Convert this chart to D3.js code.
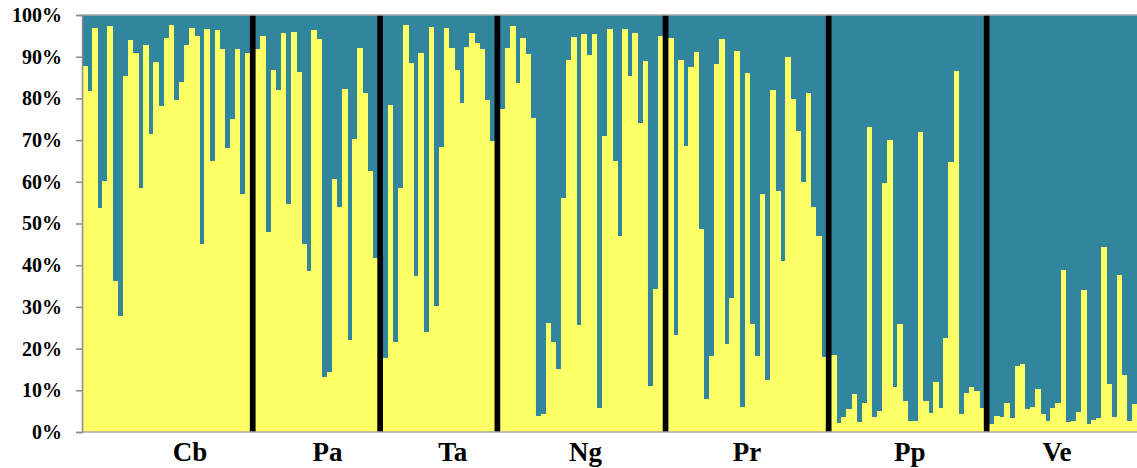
<!DOCTYPE html>
<html>
<head>
<meta charset="utf-8">
<script src="https://cdn.jsdelivr.net/npm/d3@7"></script>
<style>
  body { margin: 0; background: #fff; }
  svg text { font-family: "Liberation Serif", "Times New Roman", serif; font-weight: bold; fill: #000; }
</style>
</head>
<body>
<div id="chart"></div>
<script>
// membership (%) in cluster 1 for each individual, by population
const groups = ["Cb", "Pa", "Ta", "Ng", "Pr", "Pp", "Ve"];
const cb = [87.8,81.8,97,53.7,60.2,97.4,36.2,27.8,85.3,94,90.9,58.6,92.8,71.4,88.8,78.1,94.6,97.7,79.5,84,92.9,97,95,45,96.6,65,96.4,91.8,68,75.1,91.8,57,91];
const pa = [91.8,95,48,86.7,81.9,95.6,54.7,95.9,86.3,45,38.5,96.3,94.2,13.1,14.5,60.6,54,82.2,22.1,70.3,92.2,81.2,62.7,41.8];
const ta = [17.7,78.3,21.7,58.5,97.7,88.6,37.3,91,24,97.2,30.3,68.4,97,92.1,86.8,79,92.4,95.8,93.4,91.8,79.6,69.7];
const ng = [77.5,92,97.3,83.8,94.5,90.6,75.3,3.9,4.3,26.1,21.7,15.2,56.2,89.3,94.8,25.7,95.4,90.4,95.4,5.7,71,96.6,64.9,47.1,96.6,85.4,95.8,74.1,89,11,34.4,95];
const pr = [94.6,23.3,89.2,68.7,87.5,91.1,48.7,7.8,18.2,88.3,94.2,21.1,32.2,91.4,5.9,86.2,25.8,18.3,57.1,12.5,82.1,57.9,40.9,89.9,79.9,72.1,59.9,81.3,54,47,18.1];
const pp = [18.4,2.2,3.7,5.5,9,2.4,6.9,73.2,3.7,5,59.8,70,10.8,25.9,7.5,2.6,2.7,71.9,7.5,4.5,12.1,5.8,22.5,64.8,86.6,4.3,9.3,10.9,9.8,5.8];
const ve = [1.8,3.9,3.7,7,3.3,15.8,16.2,5.6,5.9,10.3,4.3,2.7,5.7,7,38.9,2.4,2.7,4.9,34.1,2,2.9,3.4,44.4,11.5,3.6,37.6,13.6,2.7,6.8];
const yTicks = [0,10,20,30,40,50,60,70,80,90,100];

const values = [cb, pa, ta, ng, pr, pp, ve];
// labels are not centred exactly under their groups in the original
const labelNudge = [24, 11, 14, 4, 0, 2, -6];

const margin = {top: 15, right: 0, bottom: 36, left: 82};
const W = 1137, H = 468;
const width = W - margin.left - margin.right;
const height = H - margin.top - margin.bottom;

const yellow = "#FFFF66", teal = "#31859C";

// build a slot list: individuals, with a separator slot between populations
const slots = [];
values.forEach((arr, gi) => {
    if (gi > 0) slots.push({sep: true, id: "s" + gi});
    arr.forEach((v, i) => slots.push({sep: false, id: groups[gi] + i, group: gi, v: v}));
});

const svg = d3.select("#chart").append("svg")
    .attr("width", W)
    .attr("height", H);

const g = svg.append("g")
    .attr("transform", "translate(" + margin.left + "," + margin.top + ")");

const x = d3.scaleBand().domain(slots.map(d => d.id)).range([0, width]).padding(0);
const y = d3.scaleLinear().domain([0, 100]).range([height, 0]);

const inds = slots.filter(d => !d.sep);

// teal part (upper)
g.selectAll(".tealBar")
    .data(inds)
    .join("rect")
    .attr("class", "tealBar")
    .attr("x", d => x(d.id))
    .attr("width", x.bandwidth() + 0.5)
    .attr("y", y(100))
    .attr("height", d => y(d.v) - y(100))
    .attr("fill", teal)
    .attr("shape-rendering", "crispEdges");

// yellow part (lower)
g.selectAll(".yellowBar")
    .data(inds)
    .join("rect")
    .attr("class", "yellowBar")
    .attr("x", d => x(d.id))
    .attr("width", x.bandwidth() + 0.5)
    .attr("y", d => y(d.v))
    .attr("height", d => y(0) - y(d.v))
    .attr("fill", yellow)
    .attr("shape-rendering", "crispEdges");

// black separators between populations
g.selectAll(".sep")
    .data(slots.filter(d => d.sep))
    .join("rect")
    .attr("class", "sep")
    .attr("x", d => x(d.id) - 0.3)
    .attr("width", x.bandwidth() + 0.6)
    .attr("y", y(100))
    .attr("height", y(0) - y(100))
    .attr("fill", "#000");

// frame lines
g.append("line")
    .attr("x1", 0).attr("x2", width)
    .attr("y1", y(100)).attr("y2", y(100))
    .attr("stroke", "#a6a6a6").attr("stroke-width", 1.5);
g.append("line")
    .attr("x1", 0).attr("x2", width)
    .attr("y1", y(0)).attr("y2", y(0))
    .attr("stroke", "#a6a6a6").attr("stroke-width", 1.5);

// y axis
const yAxis = g.append("g")
    .attr("class", "yAxisG")
    .call(d3.axisLeft(y).tickValues(yTicks).tickFormat(d => d + "%").tickSize(6).tickPadding(14));
yAxis.select(".domain").attr("stroke", "#8c8c8c").attr("stroke-width", 1.5);
yAxis.selectAll(".tick line").attr("stroke", "#8c8c8c").attr("stroke-width", 1.5);
yAxis.selectAll(".tick text")
    .attr("font-size", 20)
    .attr("font-family", "Liberation Serif, Times New Roman, serif")
    .attr("font-weight", "bold")
    .attr("fill", "#000");

// population labels
g.selectAll(".groupLabel")
    .data(groups)
    .join("text")
    .attr("class", "groupLabel")
    .attr("x", (d, gi) => {
        const ids = inds.filter(s => s.group === gi);
        const x0 = x(ids[0].id), x1 = x(ids[ids.length - 1].id) + x.bandwidth();
        return (x0 + x1) / 2 + labelNudge[gi];
    })
    .attr("y", height + 29)
    .attr("text-anchor", "middle")
    .attr("font-size", 27)
    .text(d => d);
</script>
</body>
</html>
